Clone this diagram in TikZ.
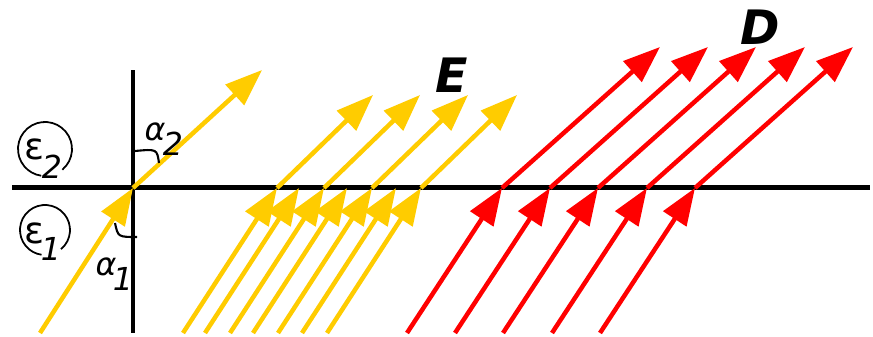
\documentclass[tikz,border=0pt]{standalone}
\usepackage{fontspec}
\setmainfont{DejaVu Sans}
\usepackage{tikz}
\usetikzlibrary{arrows.meta}
\definecolor{rayyellow}{HTML}{FFCC00}
\definecolor{rayred}{HTML}{FF0000}

\begin{document}
\begin{tikzpicture}[x=0.02cm,y=0.02cm,
  ray/.style={line width=0.09cm,-{Triangle[length=0.74cm,width=0.54cm]}},
  lbl/.style={font=\fontsize{18}{21}\selectfont\itshape,inner sep=0pt},
  eps/.style={font=\fontsize{21}{24}\selectfont,inner sep=0pt},
  big/.style={font=\fontsize{27}{30}\selectfont\bfseries\itshape,inner sep=0pt}]
\path[use as bounding box] (0,0) rectangle (873,337);
\fill[white] (0,0) rectangle (873,337);
\coordinate (O) at (133,149);
% boundary and normal
\draw[line width=0.1cm] (12,149)--(870,149);
\draw[line width=0.07cm] (133,4)--(133,267);
% E field lines
\draw[ray,rayyellow] (40,4)--(O);
\draw[ray,rayyellow] (O)--(262,267);
\foreach \x in {183,205,230,253,278,302,327}
  \draw[ray,rayyellow] (\x,4)--++(94,145);
\foreach \x in {277,324,372,421}
  \draw[ray,rayyellow] (\x,149)--++(96,93);
% D field lines
\foreach \x in {407,455,503,552,600}
  \draw[ray,rayred] (\x,4)--++(95,145);
\foreach \x in {502,550,598,647,695}
  \draw[ray,rayred] (\x,149)--++(158,141);
% angles
\draw[line width=1.2pt] (115,114) .. controls (118,100) .. (137,100);
\draw[line width=1.2pt] (135,186) .. controls (157,188) .. (159,174);
\node[lbl] (a1) at (106,70) {α};
\node[lbl] (a1i) at (123,58) {1};
\node[lbl] (a2) at (155,205) {α};
\node[lbl] (a2i) at (173,193) {2};
% permittivities
\draw[line width=1pt] (45,188) ++(-50:27) arc[start angle=-50,end angle=262,radius=27];
\node[eps] (e2) at (34,188) {ε};
\node[lbl] (e2i) at (52,170) {2};
\draw[line width=1pt] (45,107) ++(-50:25) arc[start angle=-50,end angle=262,radius=25];
\node[eps] (e1) at (34,104) {ε};
\node[lbl] (e1i) at (51,88) {1};
\node[big] (E) at (452,262) {E};
\node[big] (D) at (760,310) {D};
\end{tikzpicture}
\end{document}
